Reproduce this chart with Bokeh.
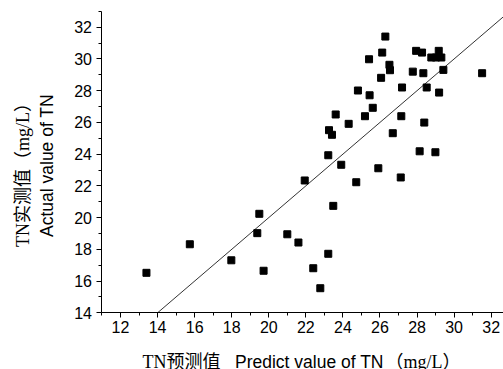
import math
from bokeh.plotting import figure
from bokeh.models import Range1d, SingleIntervalTicker, Label, LinearAxis
from bokeh.embed import file_html
from bokeh.resources import INLINE

# ---- data ----
pred_x = [13.4, 15.74, 17.98, 19.49, 19.38, 19.72, 21.0, 21.6,
          23.21, 23.91, 21.94, 23.48, 24.72, 25.91, 27.12, 28.14, 28.99,
          23.21, 22.40, 22.78,
          26.29, 26.12, 25.41, 26.51, 26.54, 26.06, 24.81, 25.44, 25.61,
          23.61, 25.19, 24.31, 23.25, 23.41,
          27.95, 28.27, 29.17, 28.77, 29.02, 29.31, 27.77, 28.34, 29.42,
          31.51, 27.19, 28.52, 29.19, 27.15, 28.39, 26.69]
actual_y = [16.52, 18.32, 17.31, 20.24, 19.02, 16.65, 18.95, 18.43,
            23.93, 23.33, 22.34, 20.74, 22.23, 23.11, 22.53, 24.18, 24.12,
            17.72, 16.81, 15.55,
            31.41, 30.40, 29.98, 29.63, 29.29, 28.81, 28.01, 27.71, 26.92,
            26.50, 26.39, 25.91, 25.51, 25.22,
            30.51, 30.40, 30.51, 30.09, 30.09, 30.09, 29.20, 29.10, 29.31,
            29.10, 28.20, 28.20, 27.88, 26.39, 25.99, 25.32]
ref_line = [14, 33]          # y = x reference line
x_axis_bounds = (11, 32.664)
y_axis_bounds = (14, 33)
tick_interval = 2

x_label_cn = "TN预测值"
x_label_en = "Predict value of TN"
x_label_unit = "（mg/L）"
y_label_cn = "TN实测值（mg/L）"
y_label_en = "Actual value of TN"

W, H = 503, 369
p = figure(width=W, height=H, output_backend="svg", toolbar_location=None,
           x_range=Range1d(5.526, 32.664), y_range=Range1d(10.427, 33.683),
           x_axis_location=None, y_axis_location=None,
           min_border_left=0, min_border_right=0, min_border_top=0,
           min_border_bottom=0)
p.outline_line_color = None
p.background_fill_color = "white"
p.border_fill_color = "white"
p.grid.visible = False

xax = LinearAxis(fixed_location=y_axis_bounds[0], bounds=x_axis_bounds)
yax = LinearAxis(fixed_location=x_axis_bounds[0], bounds=y_axis_bounds)
for ax in (xax, yax):
    ax.ticker = SingleIntervalTicker(interval=tick_interval, num_minor_ticks=2)
    ax.axis_line_color = "black"
    ax.axis_line_width = 1
    ax.major_tick_line_color = "black"
    ax.minor_tick_line_color = "black"
    ax.major_tick_out = 5
    ax.major_tick_in = 0
    ax.minor_tick_out = 3
    ax.minor_tick_in = 0
    ax.major_label_text_font = "Liberation Sans"
    ax.major_label_text_font_size = "16px"
    ax.major_label_text_color = "#000000"
xax.major_label_standoff = 3
yax.major_label_standoff = 5
p.add_layout(xax, "below")
p.add_layout(yax, "left")

p.line(ref_line, ref_line, line_color="#333333", line_width=1)
p.scatter(pred_x, actual_y, marker="square", size=7, fill_color="#000000",
          line_color="#000000")

serif = "Liberation Serif, Noto Sans CJK SC"
common = dict(x_units="screen", y_units="screen")
p.add_layout(Label(x=22, y=H - 170, text=y_label_cn, angle=math.pi / 2,
                   text_align="center", text_baseline="middle",
                   text_font=serif, text_font_size="18px",
                   text_color="#000000", **common))
p.add_layout(Label(x=46, y=H - 165, text=y_label_en, angle=math.pi / 2,
                   text_align="center", text_baseline="alphabetic",
                   text_font="Liberation Sans", text_font_size="17.5px",
                   text_color="#000000", **common))
p.add_layout(Label(x=142, y=H - 361, text=x_label_cn, text_align="left",
                   text_baseline="alphabetic", text_font=serif,
                   text_font_size="18px", text_color="#000000", **common))
p.add_layout(Label(x=234.5, y=H - 361, text=x_label_en, text_align="left",
                   text_baseline="alphabetic", text_font="Liberation Sans",
                   text_font_size="17.5px", text_color="#000000", **common))
p.add_layout(Label(x=385, y=H - 361, text=x_label_unit, text_align="left",
                   text_baseline="alphabetic", text_font=serif,
                   text_font_size="18px", text_color="#000000", **common))

open("out.html", "w").write(file_html(p, INLINE))
